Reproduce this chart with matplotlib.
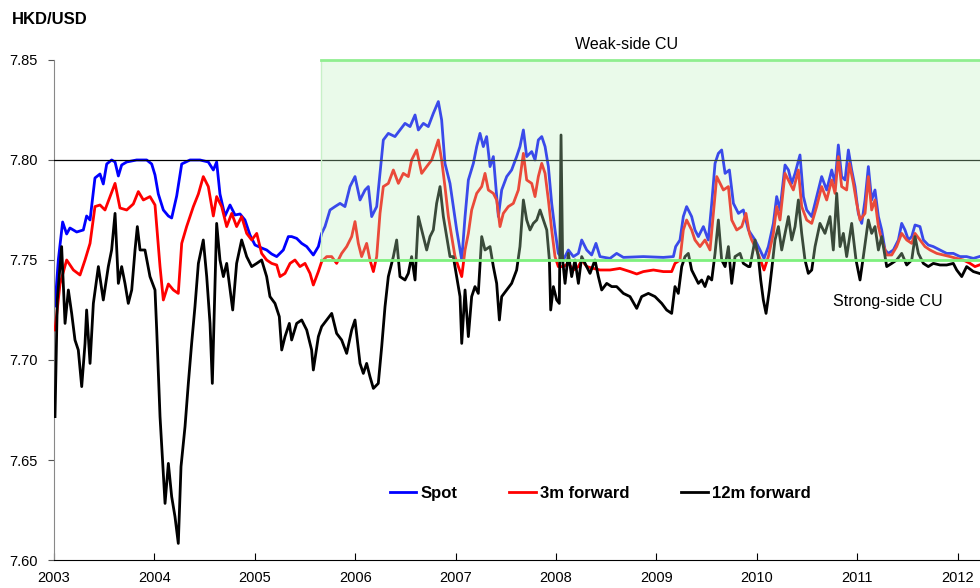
import matplotlib
matplotlib.use("Agg")
import matplotlib.pyplot as plt
from matplotlib.patches import Rectangle

plt.rcParams["font.family"] = ["Liberation Sans", "DejaVu Sans"]

# HKD/USD spot, 3m and 12m forward (decimal years)
spot_t = [
    2003.010, 2003.043, 2003.086, 2003.126, 2003.159, 2003.226, 2003.292, 2003.325, 2003.359, 2003.408,
    2003.458, 2003.491, 2003.525, 2003.574, 2003.608, 2003.641, 2003.674, 2003.724, 2003.823, 2003.923,
    2003.973, 2004.006, 2004.039, 2004.089, 2004.139, 2004.172, 2004.222, 2004.272, 2004.355, 2004.454,
    2004.537, 2004.587, 2004.620, 2004.653, 2004.703, 2004.753, 2004.803, 2004.853, 2004.902, 2004.952,
    2005.002, 2005.068, 2005.118, 2005.168, 2005.218, 2005.284, 2005.334,
    2005.367, 2005.417, 2005.467, 2005.517, 2005.583, 2005.633, 2005.666, 2005.699, 2005.749, 2005.799,
    2005.849, 2005.898, 2005.948, 2005.998, 2006.048, 2006.098, 2006.131, 2006.164, 2006.214, 2006.247,
    2006.280, 2006.330, 2006.396, 2006.446, 2006.496, 2006.546, 2006.596, 2006.629, 2006.679, 2006.728,
    2006.778, 2006.828, 2006.861, 2006.894, 2006.944, 2006.977, 2007.011, 2007.061, 2007.094, 2007.127,
    2007.177, 2007.210, 2007.243, 2007.276, 2007.309, 2007.343, 2007.376, 2007.426, 2007.459, 2007.509,
    2007.558, 2007.608, 2007.641,
    2007.675, 2007.708, 2007.758, 2007.791, 2007.824, 2007.858, 2007.891, 2007.924, 2007.957, 2007.990,
    2008.023, 2008.073, 2008.123, 2008.173, 2008.223, 2008.256, 2008.306, 2008.355, 2008.398, 2008.438,
    2008.538, 2008.604, 2008.671, 2008.870, 2009.069, 2009.169, 2009.192, 2009.235, 2009.268, 2009.301,
    2009.351, 2009.384, 2009.418, 2009.468, 2009.517, 2009.551, 2009.584, 2009.617, 2009.650, 2009.684,
    2009.727, 2009.767, 2009.817, 2009.866, 2009.916,
    2009.982, 2010.032, 2010.072, 2010.115, 2010.165, 2010.198, 2010.231, 2010.281, 2010.315, 2010.348,
    2010.381, 2010.430, 2010.464, 2010.497, 2010.547, 2010.596, 2010.646, 2010.696, 2010.746, 2010.779,
    2010.812, 2010.845, 2010.879, 2010.912, 2010.945, 2010.978, 2011.011, 2011.045, 2011.078, 2011.111,
    2011.144, 2011.177, 2011.211, 2011.244, 2011.277, 2011.310, 2011.360, 2011.410, 2011.443, 2011.476,
    2011.510, 2011.543, 2011.576, 2011.625, 2011.659, 2011.708, 2011.758, 2011.825, 2011.891, 2011.957,
    2012.024, 2012.090, 2012.157, 2012.216,
]
spot_v = [
    7.727, 7.750, 7.769, 7.763, 7.766, 7.764, 7.765, 7.772, 7.770, 7.791,
    7.793, 7.788, 7.798, 7.800, 7.799, 7.792, 7.7975, 7.799, 7.800, 7.800,
    7.798, 7.7925, 7.783, 7.775, 7.772, 7.771, 7.782, 7.798, 7.800, 7.800,
    7.799, 7.795, 7.799, 7.783, 7.772, 7.7775, 7.7725, 7.773, 7.770, 7.7625,
    7.7575, 7.756, 7.755, 7.753, 7.7517, 7.755, 7.7617,
    7.7617, 7.7608, 7.7583, 7.7567, 7.7525, 7.7567, 7.7633, 7.7667, 7.775, 7.7767,
    7.7783, 7.7767, 7.7867, 7.7917, 7.780, 7.785, 7.7867, 7.7717, 7.7767, 7.7933,
    7.810, 7.8133, 7.8117, 7.815, 7.8183, 7.8167, 7.8225, 7.815, 7.8183, 7.8167,
    7.8233, 7.8292, 7.820, 7.7983, 7.7883, 7.7767, 7.765, 7.750, 7.7717, 7.790,
    7.7983, 7.8067, 7.8133, 7.8067, 7.8117, 7.7967, 7.8017, 7.7717, 7.785, 7.7917,
    7.795, 7.8017, 7.8067,
    7.815, 7.8017, 7.8042, 7.800, 7.810, 7.8117, 7.8067, 7.7967, 7.7783, 7.765,
    7.7533, 7.750, 7.755, 7.7517, 7.7533, 7.760, 7.755, 7.7525, 7.7583, 7.7517,
    7.7508, 7.7533, 7.7513, 7.7517, 7.7513, 7.7517, 7.7567, 7.760, 7.7717, 7.7767,
    7.7717, 7.765, 7.7617, 7.7667, 7.760, 7.7783, 7.7983, 7.8033, 7.805, 7.7933,
    7.795, 7.7783, 7.7733, 7.775, 7.765,
    7.760, 7.755, 7.7508, 7.7567, 7.7683, 7.7817, 7.775, 7.7975, 7.795, 7.7883,
    7.7933, 7.8025, 7.7817, 7.775, 7.7717, 7.7817, 7.7917, 7.785, 7.795, 7.7883,
    7.8075, 7.7917, 7.790, 7.805, 7.795, 7.7867, 7.7733, 7.7683, 7.780, 7.7967,
    7.780, 7.785, 7.7717, 7.765, 7.755, 7.7533, 7.755, 7.760, 7.7683, 7.765,
    7.760, 7.7617, 7.7675, 7.7667, 7.760, 7.7575, 7.7567, 7.755, 7.7533, 7.7533,
    7.7517, 7.7517, 7.7508, 7.7517,
]

fwd3_t = [
    2003.010, 2003.060, 2003.126, 2003.193, 2003.259, 2003.309, 2003.359, 2003.408, 2003.458, 2003.508,
    2003.558, 2003.608, 2003.657, 2003.724, 2003.790, 2003.840, 2003.890, 2003.956, 2004.006, 2004.056,
    2004.089, 2004.139, 2004.189, 2004.238, 2004.272, 2004.321, 2004.388, 2004.438, 2004.487, 2004.537,
    2004.587, 2004.620, 2004.670, 2004.720, 2004.770, 2004.819, 2004.869, 2004.919, 2004.969, 2005.019,
    2005.068, 2005.118, 2005.168, 2005.218, 2005.251, 2005.301, 2005.351,
    2005.400, 2005.450, 2005.500, 2005.550, 2005.583, 2005.633, 2005.666, 2005.716, 2005.766, 2005.815,
    2005.865, 2005.915, 2005.965, 2005.998, 2006.031, 2006.064, 2006.114, 2006.147, 2006.181, 2006.214,
    2006.247, 2006.280, 2006.330, 2006.380, 2006.430, 2006.479, 2006.529, 2006.562, 2006.612, 2006.662,
    2006.712, 2006.762, 2006.795, 2006.828, 2006.861, 2006.894, 2006.928, 2006.961, 2006.994, 2007.027,
    2007.061, 2007.094, 2007.127, 2007.160, 2007.210, 2007.260, 2007.293, 2007.326, 2007.376, 2007.409,
    2007.442, 2007.475, 2007.525, 2007.575, 2007.625,
    2007.675, 2007.708, 2007.758, 2007.791, 2007.824, 2007.858, 2007.891, 2007.924, 2007.957, 2007.990,
    2008.023, 2008.073, 2008.123, 2008.173, 2008.223, 2008.256, 2008.306, 2008.372, 2008.438, 2008.538,
    2008.637, 2008.737, 2008.804, 2008.870, 2008.970, 2009.069, 2009.152, 2009.185, 2009.235, 2009.268,
    2009.301, 2009.351, 2009.384, 2009.434, 2009.484, 2009.534, 2009.567, 2009.601, 2009.634, 2009.667,
    2009.717, 2009.750, 2009.800, 2009.850, 2009.892, 2009.926,
    2009.949, 2009.999, 2010.049, 2010.072, 2010.115, 2010.165, 2010.198, 2010.231, 2010.281, 2010.331,
    2010.364, 2010.414, 2010.447, 2010.497, 2010.547, 2010.596, 2010.646, 2010.696, 2010.746, 2010.779,
    2010.812, 2010.845, 2010.895, 2010.922, 2010.962, 2010.995, 2011.028, 2011.078, 2011.111, 2011.144,
    2011.177, 2011.211, 2011.244, 2011.294, 2011.344, 2011.393, 2011.443, 2011.493, 2011.543, 2011.576,
    2011.625, 2011.675, 2011.725, 2011.792, 2011.858, 2011.924, 2011.991, 2012.057, 2012.124, 2012.173,
    2012.216,
]
fwd3_v = [
    7.715, 7.738, 7.750, 7.745, 7.7425, 7.750, 7.7583, 7.7767, 7.7775, 7.775,
    7.7817, 7.7883, 7.776, 7.775, 7.778, 7.7842, 7.780, 7.7817, 7.7775, 7.7467,
    7.730, 7.738, 7.735, 7.7333, 7.7583, 7.7667, 7.7767, 7.783, 7.7917, 7.7867,
    7.772, 7.7817, 7.7767, 7.7667, 7.7733, 7.7667, 7.7717, 7.7633, 7.760, 7.7633,
    7.7533, 7.750, 7.7483, 7.7475, 7.7417, 7.7433, 7.7483,
    7.750, 7.7467, 7.7483, 7.7433, 7.7375, 7.7442, 7.7492, 7.7517, 7.7517, 7.7483,
    7.7533, 7.7567, 7.7617, 7.7692, 7.7583, 7.7517, 7.7583, 7.750, 7.7442, 7.7517,
    7.7733, 7.7867, 7.7883, 7.795, 7.7883, 7.7933, 7.7917, 7.800, 7.805, 7.7933,
    7.7967, 7.800, 7.805, 7.810, 7.800, 7.7867, 7.7717, 7.7617, 7.7517, 7.7467,
    7.7417, 7.755, 7.7633, 7.775, 7.7833, 7.7867, 7.7933, 7.785, 7.7833, 7.780,
    7.7667, 7.7733, 7.7767, 7.7783, 7.785,
    7.8033, 7.790, 7.7883, 7.7817, 7.7917, 7.7983, 7.7933, 7.780, 7.765, 7.7517,
    7.7467, 7.7467, 7.7483, 7.745, 7.7467, 7.750, 7.7467, 7.7458, 7.745, 7.745,
    7.7458, 7.7442, 7.743, 7.7442, 7.745, 7.7442, 7.7442, 7.7483, 7.750, 7.765,
    7.770, 7.765, 7.760, 7.7567, 7.760, 7.755, 7.7733, 7.7917, 7.7883, 7.785,
    7.7867, 7.770, 7.765, 7.7667, 7.7733, 7.7633,
    7.760, 7.755, 7.7483, 7.745, 7.7517, 7.7633, 7.7767, 7.770, 7.7933, 7.7883,
    7.785, 7.795, 7.7767, 7.770, 7.7683, 7.7767, 7.7867, 7.780, 7.790, 7.7833,
    7.8017, 7.7867, 7.785, 7.7983, 7.7883, 7.7783, 7.770, 7.7733, 7.7917, 7.775,
    7.780, 7.7667, 7.760, 7.7525, 7.7525, 7.7567, 7.7633, 7.760, 7.7583, 7.7633,
    7.760, 7.7567, 7.755, 7.7533, 7.7525, 7.7517, 7.7508, 7.750, 7.7483, 7.7467,
    7.7475,
]

fwd12_t = [
    2003.010, 2003.033, 2003.076, 2003.110, 2003.143, 2003.176, 2003.209, 2003.242, 2003.276, 2003.309,
    2003.325, 2003.359, 2003.392, 2003.442, 2003.491, 2003.541, 2003.574, 2003.608, 2003.641, 2003.674,
    2003.707, 2003.740, 2003.774, 2003.807, 2003.830, 2003.857, 2003.906, 2003.956, 2004.006, 2004.023,
    2004.056, 2004.106, 2004.139, 2004.172, 2004.205, 2004.238, 2004.265, 2004.305, 2004.338, 2004.371,
    2004.404, 2004.438, 2004.487, 2004.521, 2004.554, 2004.577, 2004.604, 2004.620, 2004.653, 2004.687,
    2004.720, 2004.780, 2004.819, 2004.869, 2004.919, 2004.969, 2005.019, 2005.068, 2005.118, 2005.151,
    2005.201, 2005.244, 2005.268, 2005.301, 2005.344,
    2005.367, 2005.417, 2005.467, 2005.517, 2005.566, 2005.583, 2005.633, 2005.666, 2005.716, 2005.766,
    2005.815, 2005.865, 2005.915, 2005.965, 2005.998, 2006.048, 2006.081, 2006.114, 2006.147, 2006.181,
    2006.230, 2006.264, 2006.297, 2006.330, 2006.380, 2006.413, 2006.446, 2006.496, 2006.529, 2006.562,
    2006.596, 2006.629, 2006.662, 2006.712, 2006.745, 2006.778, 2006.811, 2006.845, 2006.878, 2006.911,
    2006.944, 2006.977, 2007.011, 2007.044, 2007.061, 2007.094, 2007.127, 2007.160, 2007.193, 2007.226,
    2007.260, 2007.293, 2007.343, 2007.376, 2007.409, 2007.436, 2007.459, 2007.509, 2007.558, 2007.608,
    2007.641,
    2007.675, 2007.708, 2007.741, 2007.774, 2007.808, 2007.841, 2007.874, 2007.908, 2007.934, 2007.947,
    2007.974, 2008.007, 2008.033, 2008.050, 2008.066, 2008.090, 2008.123, 2008.156, 2008.189, 2008.223,
    2008.256, 2008.289, 2008.339, 2008.388, 2008.422, 2008.455, 2008.505, 2008.555, 2008.604, 2008.671,
    2008.737, 2008.804, 2008.853, 2008.920, 2008.986, 2009.053, 2009.102, 2009.152, 2009.185, 2009.218,
    2009.252, 2009.285, 2009.318, 2009.351, 2009.384, 2009.418, 2009.451, 2009.484, 2009.517, 2009.551,
    2009.584, 2009.617, 2009.650, 2009.684, 2009.717, 2009.750, 2009.783, 2009.833, 2009.866, 2009.916,
    2009.932, 2009.982, 2010.015, 2010.039, 2010.065, 2010.092, 2010.125, 2010.148, 2010.181, 2010.215,
    2010.248, 2010.281, 2010.315, 2010.348, 2010.381, 2010.414, 2010.447, 2010.480, 2010.513, 2010.547,
    2010.580, 2010.629, 2010.679, 2010.729, 2010.762, 2010.796, 2010.829, 2010.862, 2010.895, 2010.945,
    2010.988, 2011.028, 2011.061, 2011.111, 2011.144, 2011.177, 2011.211, 2011.244, 2011.294, 2011.344,
    2011.393, 2011.443, 2011.493, 2011.543, 2011.576, 2011.609, 2011.659, 2011.708, 2011.758, 2011.825,
    2011.891, 2011.957, 2011.991, 2012.041, 2012.090, 2012.157, 2012.216,
]
fwd12_v = [
    7.6717, 7.730, 7.7567, 7.7183, 7.735, 7.7233, 7.710, 7.705, 7.6867, 7.7083,
    7.725, 7.6983, 7.7283, 7.7467, 7.730, 7.7467, 7.755, 7.7733, 7.7383, 7.7467,
    7.7383, 7.7283, 7.735, 7.755, 7.7667, 7.755, 7.755, 7.7417, 7.735, 7.715,
    7.6717, 7.6283, 7.6483, 7.6317, 7.6217, 7.6083, 7.6467, 7.6667, 7.6883, 7.7083,
    7.7267, 7.7483, 7.760, 7.7417, 7.7183, 7.6883, 7.7383, 7.7683, 7.750, 7.7417,
    7.7483, 7.725, 7.7483, 7.760, 7.7517, 7.7467, 7.7483, 7.750, 7.7417, 7.7317,
    7.7283, 7.7217, 7.705, 7.7117, 7.7183,
    7.710, 7.7183, 7.720, 7.715, 7.705, 7.695, 7.7117, 7.7167, 7.720, 7.7233,
    7.7133, 7.710, 7.7033, 7.715, 7.720, 7.6983, 7.6933, 7.6983, 7.6917, 7.6858,
    7.6883, 7.7067, 7.7267, 7.7417, 7.7517, 7.760, 7.7417, 7.740, 7.7433, 7.7517,
    7.740, 7.7717, 7.765, 7.755, 7.7617, 7.765, 7.7783, 7.7867, 7.7717, 7.7617,
    7.7517, 7.7517, 7.7417, 7.7317, 7.7083, 7.735, 7.7117, 7.7317, 7.7367, 7.7333,
    7.7617, 7.755, 7.7567, 7.7467, 7.7383, 7.720, 7.7317, 7.735, 7.7383, 7.745,
    7.7567,
    7.780, 7.770, 7.765, 7.7683, 7.770, 7.775, 7.770, 7.765, 7.750, 7.725,
    7.7367, 7.730, 7.7283, 7.8125, 7.750, 7.7383, 7.7533, 7.7417, 7.750, 7.7383,
    7.7517, 7.7483, 7.7433, 7.750, 7.7417, 7.735, 7.7383, 7.7367, 7.7367, 7.7333,
    7.7317, 7.7258, 7.7317, 7.7333, 7.7317, 7.7283, 7.725, 7.7233, 7.7367, 7.7333,
    7.7467, 7.7517, 7.7533, 7.745, 7.7417, 7.7383, 7.740, 7.7367, 7.7417, 7.740,
    7.7533, 7.770, 7.750, 7.7467, 7.7567, 7.7383, 7.7517, 7.7533, 7.7483, 7.7467,
    7.7467, 7.760, 7.7517, 7.740, 7.730, 7.7233, 7.735, 7.745, 7.760, 7.7667,
    7.755, 7.7633, 7.7717, 7.760, 7.7667, 7.780, 7.7633, 7.750, 7.7433, 7.745,
    7.7567, 7.7683, 7.7633, 7.7717, 7.755, 7.7833, 7.7567, 7.7633, 7.7517, 7.7683,
    7.750, 7.740, 7.7517, 7.770, 7.7633, 7.7667, 7.755, 7.7617, 7.7467, 7.7483,
    7.750, 7.7533, 7.7475, 7.750, 7.7617, 7.7533, 7.7483, 7.7467, 7.7483, 7.7475,
    7.7475, 7.7483, 7.745, 7.7417, 7.7467, 7.7442, 7.7433,
]

STRONG_SIDE = 7.75
WEAK_SIDE = 7.85
ORIG_PEG = 7.80
ZONE_START = 2005.659  # refinement of the link (May 2005)
X_END = 2012.223

fig = plt.figure(figsize=(9.8, 5.88), dpi=100)
ax = fig.add_axes([0.0551, 0.0476, 0.9449, 0.8504])

ax.plot(spot_t, spot_v, color="#0000ff", lw=2.0, label="Spot", zorder=2)
ax.plot(fwd3_t, fwd3_v, color="#ff0000", lw=2.0, label="3m forward", zorder=3)
ax.plot(fwd12_t, fwd12_v, color="#000000", lw=2.0, label="12m forward", zorder=3.5)

ax.axhline(ORIG_PEG, color="black", lw=0.9, zorder=4)

# convertibility zone, drawn translucent over the series
ax.add_patch(Rectangle((ZONE_START, STRONG_SIDE), X_END - ZONE_START, WEAK_SIDE - STRONG_SIDE,
                       facecolor=(0.74, 0.94, 0.74), edgecolor="none", alpha=0.31, zorder=5))
ax.plot([ZONE_START, ZONE_START], [STRONG_SIDE, WEAK_SIDE], color="#c8f0c8", lw=1, zorder=5)
ax.plot([ZONE_START, X_END], [WEAK_SIDE, WEAK_SIDE], color="#90ee90", lw=2, zorder=6, clip_on=False)
ax.plot([ZONE_START, X_END], [STRONG_SIDE, STRONG_SIDE], color="#7ef07e", lw=2, zorder=6)

ax.text(2008.707, 7.8575, "Weak-side CU", ha="center", va="center", fontsize=11.5)
ax.text(2011.307, 7.729, "Strong-side CU", ha="center", va="center", fontsize=11.5)

ax.set_xlim(2003, X_END)
ax.set_ylim(7.60, 7.85)
ax.set_xticks(range(2003, 2013))
ax.set_xticklabels([str(y) for y in range(2003, 2013)], fontsize=10.5)
ax.set_yticks([7.60, 7.65, 7.70, 7.75, 7.80, 7.85])
ax.set_yticklabels(["7.60", "7.65", "7.70", "7.75", "7.80", "7.85"], fontsize=10.5)
ax.tick_params(axis="x", direction="in", length=5, pad=8)
ax.tick_params(axis="y", direction="out", length=4, pad=8, color="#555555")

for s in ("top", "right"):
    ax.spines[s].set_visible(False)
ax.spines["left"].set_color("#888888")
ax.spines["bottom"].set_color("black")

leg = ax.legend(loc="center", bbox_to_anchor=(0.59, 0.134), ncol=3, frameon=False,
                handlelength=1.6, handletextpad=0.25, columnspacing=3.1,
                prop={"weight": "bold", "size": 12})

fig.text(0.012, 1 - 20 / 588, "HKD/USD", fontsize=12, fontweight="bold", va="center")

fig.savefig("out.png", dpi=100)
